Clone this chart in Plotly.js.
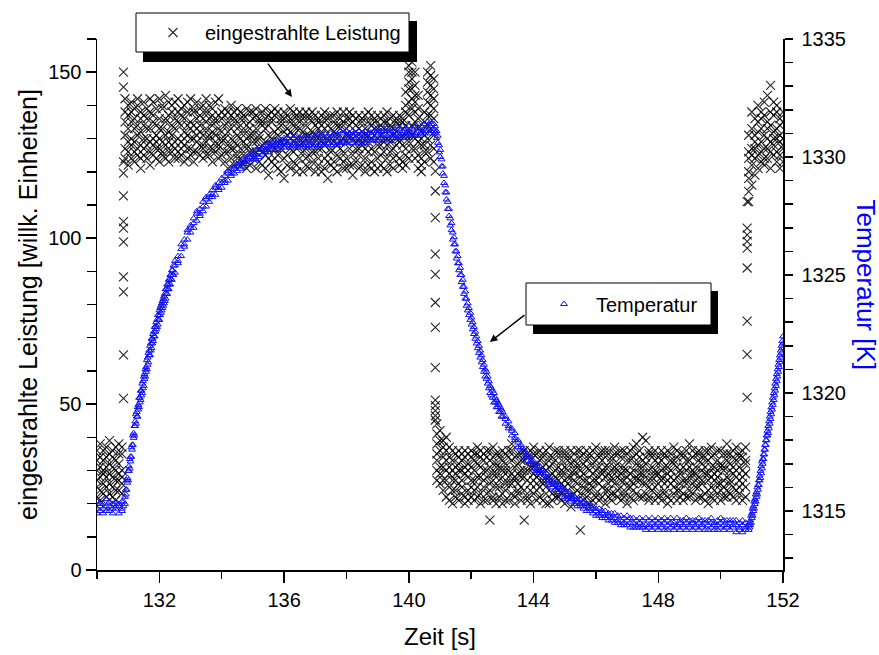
<!DOCTYPE html>
<html>
<head>
<meta charset="utf-8">
<script src="https://cdn.plot.ly/plotly-3.0.1.min.js"></script>
<style>html,body{margin:0;padding:0;background:#fff;}#chart{width:879px;height:655px;}</style>
</head>
<body>
<div id="chart"></div>
<script>
// ---- tick labels ----
const xTicks = [132, 136, 140, 144, 148, 152];
const xMinorTicks = [130, 134, 138, 142, 146, 150];
const yTicks = [0, 50, 100, 150];
const yMinorTicks = [10, 20, 30, 40, 60, 70, 80, 90, 110, 120, 130, 140, 160];
const y2Ticks = [1315, 1320, 1325, 1330, 1335];
const y2MinorTicks = [1313, 1314, 1316, 1317, 1318, 1319, 1321, 1322, 1323, 1324, 1326, 1327, 1328, 1329, 1331, 1332, 1333, 1334];

// ---- eingestrahlte Leistung: rows [Zeit, readings...] ----
const powerBefore = [
[130.0,27,33,22,36,30,25],[130.1,34,24,31,28,38,21],[130.2,23,30,36,26,33,29],[130.3,31,37,25,34,22,28],
[130.4,26,29,35,23,32,39],[130.5,36,22,28,31,25,34],[130.6,24,33,30,37,27,21],[130.7,32,27,38,24,35,29],
[130.8,28,35,23,30,26,37]
];
const powerJumpUp = [[130.85,150,145.5,123,119.6,112.7,105,103,98.9,88.3,83.8,64.8,51.7]];
const powerHigh = [
[130.9,131,138,124,142,127,135],[131.0,126,140,133,122,137,129],[131.1,135,124,141,130,128,138],[131.2,129,136,123,139,133,126],
[131.3,140,127,134,125,131,142],[131.4,124,132,138,128,136,121],[131.5,137,130,125,141,127,134],[131.6,128,139,133,124,136,130],
[131.7,133,126,142,129,122,138],[131.8,125,135,130,137,128,141],[131.9,139,129,124,134,131,127],[132.0,130,142,127,136,123,133],
[132.1,126,133,139,125,140,129],[132.2,136,124,131,128,135,143],[132.3,123,137,129,141,132,126],[132.4,134,128,140,126,138,131],
[132.5,129,141,124,133,127,136],[132.6,138,126,135,130,142,124],[132.7,127,134,129,139,125,137],[132.8,132,140,123,136,130,128],
[132.9,124,131,138,127,134,141],[133.0,135,127,130,142,125,133],[133.1,130,138,126,134,139,123],[133.2,126,133,141,129,136,131],
[133.3,139,125,132,137,128,134],[133.4,128,136,124,131,140,127],[133.5,133,129,138,125,135,142],[133.6,125,140,131,136,127,130],
[133.7,137,127,134,123,139,132],[133.8,131,135,126,141,129,136],[133.9,127,142,133,128,137,124],[134.0,136,130,125,138,132,129],
[134.1,123,134,130,137,126,139],[134.2,132,126,138,128,135,121],[134.3,127,137,124,133,130,140],[134.4,135,129,136,122,138,127],
[134.5,125,133,128,139,131,124],[134.6,138,122,134,127,136,130],[134.7,129,136,125,132,123,137],[134.8,134,127,139,130,128,121],
[134.9,122,131,135,126,138,133],[135.0,131,138,124,136,129,126],[135.1,126,129,137,121,133,139],[135.2,136,123,130,135,127,131],
[135.3,128,135,126,138,122,134],[135.4,133,121,139,129,136,125],[135.5,124,137,131,127,134,119],[135.6,135,128,123,136,130,138],
[135.7,127,132,137,124,139,122],[135.8,138,125,129,133,121,131],[135.9,129,136,120,135,127,134],[136.0,132,124,138,128,136,118],
[136.1,122,133,129,137,125,131],[136.2,136,127,135,121,132,139],[136.3,126,138,123,131,129,134],[136.4,133,122,136,127,137,120],
[136.5,128,135,130,124,133,138],[136.6,137,126,132,136,120,129],[136.7,124,131,127,138,134,122],[136.8,131,136,121,129,125,137],
[136.9,135,123,138,132,128,126],[137.0,120,130,134,126,137,131],[137.1,133,127,124,136,122,135],[137.2,127,137,131,120,134,129],
[137.3,136,121,128,133,138,124],[137.4,123,134,136,125,130,118],[137.5,130,126,122,137,127,133],[137.6,137,132,129,123,135,121],
[137.7,125,128,138,131,120,134],[137.8,134,136,124,127,133,129],[137.9,121,130,135,138,126,123],[138.0,129,124,133,121,136,131],
[138.1,136,131,127,134,122,138],[138.2,122,135,130,125,137,119],[138.3,132,127,136,129,123,134],[138.4,127,133,121,137,130,125],
[138.5,135,122,129,132,136,128],[138.6,124,137,133,120,127,131],[138.7,131,126,138,135,122,129],[138.8,137,130,123,127,134,121],
[138.9,126,135,131,136,120,133],[139.0,133,121,128,124,137,130],[139.1,128,136,134,131,125,122],[139.2,121,129,137,126,133,135],
[139.3,135,124,130,138,128,120],[139.4,129,133,122,134,136,126],[139.5,124,137,131,127,121,133],[139.6,136,128,125,132,135,130],
[139.7,130,122,137,129,124,134],[139.8,123,135,128,136,131,121]
];
const powerSpikes = [
[139.9,127,134,140,122,131,138,144,125],[140.0,129,137,145,150,132,141,124,147,152],[140.1,134,142,148,153,127,139,145,131,150],
[140.2,130,138,146,124,141,150,135,127,143],[140.3,125,133,139,121,129,136,143],[140.4,122,128,132,124,130,120],
[140.5,126,131,135,123,128,138],[140.6,130,137,144,150,126,141,134,147],[140.7,133,140,146,152,128,143,137,149,124],
[140.8,127,136,142,148,131,139,145,123]
];
const powerJumpDown = [[140.85,120.2,114.2,106.2,95.2,89.1,80.6,73.1,61.0,51.2,49.5,48,46.5,45.2]];
const powerLow = [
[140.9,44,38,41,30,35,27,33],[141.0,42,31,36,26,39,29],[141.1,39,27,34,24,31,37],[141.2,36,30,22,33,27,40],
[141.3,29,34,21,37,25,31],[141.4,33,24,30,36,20,27],[141.5,22,31,27,35,29,24],[141.6,30,26,34,21,32,36],
[141.7,27,35,23,30,25,33],[141.8,34,22,29,36,31,20],[141.9,24,32,28,21,35,30],[142.0,31,27,36,25,22,34],
[142.1,21,33,30,27,35,24],[142.2,35,25,22,32,28,37],[142.3,28,36,31,23,34,20],[142.4,33,21,27,35,30,25],
[142.5,23,30,34,28,21,36],[142.6,36,26,15,31,24,33],[142.7,27,34,22,37,29,21],[142.8,32,20,29,25,35,31],
[142.9,25,35,31,22,27,34],[143.0,30,23,36,28,33,20],[143.1,21,32,26,35,24,30],[143.2,34,28,21,30,36,26],
[143.3,26,36,33,23,29,38],[143.4,31,22,28,34,20,27],[143.5,23,29,35,26,32,24],[143.6,35,25,30,21,28,33],
[143.7,28,33,24,36,15,30],[143.8,22,30,34,27,35,21],[143.9,33,26,20,31,24,36],[144.0,29,35,27,23,37,31],
[144.1,24,21,32,35,28,26],[144.2,36,30,25,29,22,33],[144.3,27,34,21,26,31,35],[144.4,32,23,36,30,25,20],
[144.5,20,31,28,34,37,27],[144.6,34,26,23,29,21,32],[144.7,25,36,30,22,33,28],[144.8,31,22,35,27,24,36],
[144.9,23,29,26,33,30,21],[145.0,35,27,31,20,36,25],[145.1,28,33,22,30,26,34],[145.2,22,25,36,28,32,19],
[145.3,33,30,27,23,35,29],[145.4,26,36,21,32,24,31],[145.5,30,23,34,12,28,36],[145.6,21,32,29,35,25,27],
[145.7,36,27,24,31,22,33],[145.8,24,35,30,26,34,20],[145.9,32,21,27,36,29,25],[146.0,27,33,23,30,37,22],
[146.1,35,26,31,21,28,34],[146.2,22,30,36,25,33,29],[146.3,31,24,28,34,20,36],[146.4,26,36,22,29,31,24],
[146.5,34,28,33,23,27,21],[146.6,23,31,26,37,30,35],[146.7,30,22,35,28,24,32],[146.8,21,34,29,25,36,27],
[146.9,36,27,23,31,22,30],[147.0,28,33,30,20,35,25],[147.1,33,25,36,27,29,22],[147.2,24,30,21,34,26,37],
[147.3,35,23,28,32,38,27],[147.4,27,36,31,22,29,34],[147.5,22,29,40,26,33,31],[147.6,32,26,34,39,23,28],
[147.7,25,35,22,30,36,21],[147.8,34,28,27,24,31,35],[147.9,29,21,33,36,25,30],[148.0,23,32,26,29,34,22],
[148.1,36,27,30,21,28,33],[148.2,26,34,23,35,31,24],[148.3,31,22,36,27,20,29],[148.4,21,30,28,33,26,35],
[148.5,33,25,32,23,37,27],[148.6,28,36,21,31,24,34],[148.7,24,29,35,26,30,22],[148.8,35,23,27,34,21,31],
[148.9,27,33,30,22,36,26],[149.0,22,31,24,38,28,33],[149.1,34,26,36,29,23,30],[149.2,29,21,31,25,35,27],
[149.3,25,35,28,33,22,36],[149.4,32,27,22,30,26,34],[149.5,23,34,29,36,31,21],[149.6,36,24,33,27,20,29],
[149.7,28,31,25,22,34,37],[149.8,21,27,35,31,29,24],[149.9,33,30,23,26,36,28],[150.0,26,36,32,21,24,31],
[150.1,31,22,27,35,30,25],[150.2,24,33,38,28,22,35],[150.3,35,26,30,23,32,27],[150.4,22,29,34,36,25,31],
[150.5,30,24,21,33,28,37],[150.6,27,35,31,25,23,34],[150.7,34,21,28,30,36,26],[150.8,25,32,37,22,29,33]
];
const powerJumpUp2 = [[150.85,111,103,101,99,97,91,75,65,52]];
const powerHigh2 = [
[150.9,114,120,126,131,124,111,118],[151.0,122,133,127,116,138,125],[151.1,129,124,136,119,131,127],
[151.2,135,121,128,140,125,132],[151.3,126,138,123,133,129,136],[151.4,131,127,141,124,137,122],
[151.5,124,135,130,143,127,133],[151.6,138,126,146,129,134,121],[151.7,128,141,132,125,137,130],
[151.8,133,123,138,130,126,140],[151.9,125,136,129,134,121,131],[152.0,130,127,135,123,138,128]
];

// ---- Temperatur [K]: rows [Zeit, readings...] ----
const tempBefore = [
[130.0,1315.1,1315.4,1314.9],[130.1,1315.3,1315.0,1315.2],[130.2,1314.9,1315.3,1315.1],[130.3,1315.2,1315.5,1315.0],
[130.4,1315.0,1315.2,1315.4],[130.5,1315.3,1314.9,1315.1],[130.6,1315.1,1315.4,1315.2],[130.7,1315.2,1314.9,1315.3],
[130.8,1315.4,1315.1,1315.0],[130.85,1315.2,1315.4]
];
const tempRise = [
[130.9,1315.3,1315.6],[130.925,1315.7,1315.9],[130.95,1315.9,1316.3],[130.975,1316.2,1316.4],[131.0,1316.3,1316.7],
[131.025,1316.7,1316.9],[131.05,1316.8,1317.2],[131.075,1317.1,1317.3],[131.1,1317.3,1317.7],[131.125,1317.6,1317.8],
[131.15,1317.8,1318.2],[131.175,1318.1,1318.3],[131.2,1318.2,1318.6],[131.225,1318.6,1318.8],[131.25,1318.7,1319.1],
[131.275,1319.0,1319.2],[131.3,1319.0,1319.4],[131.325,1319.3,1319.5],[131.35,1319.4,1319.8],[131.375,1319.6,1319.8],
[131.4,1319.7,1320.1],[131.425,1319.9,1320.1],[131.45,1320.0,1320.4],[131.475,1320.2,1320.5],[131.5,1320.3,1320.7],
[131.525,1320.6,1320.8],[131.55,1320.7,1321.0],[131.575,1320.9,1321.1],[131.6,1321.0,1321.4],[131.625,1321.2,1321.5],
[131.65,1321.3,1321.7],[131.675,1321.6,1321.8],[131.7,1321.6,1322.0],[131.725,1321.8,1322.1],[131.75,1321.9,1322.3],
[131.775,1322.1,1322.3],[131.8,1322.2,1322.5],[131.825,1322.4,1322.6],[131.85,1322.4,1322.8],[131.875,1322.6,1322.8],
[131.9,1322.7,1323.0],[131.925,1322.8,1323.1],[131.95,1322.9,1323.3],[131.975,1323.1,1323.3],[132.0,1323.1,1323.5],
[132.025,1323.3,1323.6],[132.05,1323.4,1323.7],[132.075,1323.5,1323.8],[132.1,1323.6,1323.9],[132.125,1323.7,1324.0],
[132.15,1323.8,1324.1],[132.175,1323.9,1324.2],[132.2,1324.0,1324.4],[132.225,1324.2,1324.4],[132.25,1324.2,1324.6],
[132.275,1324.4,1324.6],[132.3,1324.4,1324.8],[132.325,1324.6,1324.8],[132.35,1324.6,1325.0],[132.375,1324.8,1325.0],
[132.4,1324.8,1325.2],[132.425,1325.0,1325.2],[132.45,1325.0,1325.4]
];
const tempPlateau = [
[132.5,1325.1,1325.4,1325.6],[132.6,1325.5,1325.8,1325.6],[132.7,1325.8,1326.1,1326.3],[132.8,1326.2,1326.5,1326.3],
[132.9,1326.5,1326.8,1326.9],[133.0,1326.8,1327.1,1327.0],[133.1,1327.0,1327.4,1327.2],[133.2,1327.3,1327.6,1327.7],
[133.3,1327.5,1327.8,1327.6],[133.4,1327.7,1328.1,1327.9],[133.5,1327.9,1328.2,1328.3],[133.6,1328.1,1328.4,1328.3],
[133.7,1328.3,1328.6,1328.4],[133.8,1328.4,1328.7,1328.8],[133.9,1328.6,1328.9,1328.7],[134.0,1328.7,1329.1,1328.9],
[134.1,1328.9,1329.2,1329.0],[134.2,1329.0,1329.3,1329.4],[134.3,1329.2,1329.5,1329.3],[134.4,1329.3,1329.6,1329.5],
[134.5,1329.4,1329.7,1329.6],[134.6,1329.5,1329.8,1329.7],[134.7,1329.6,1329.9,1329.8],[134.8,1329.7,1330.0,1329.9],
[134.9,1329.8,1330.1,1330.0],[135.0,1329.9,1330.2,1330.1],[135.1,1329.9,1330.3,1330.1],[135.2,1330.0,1330.4,1330.2],
[135.3,1330.1,1330.4,1330.3],[135.4,1330.2,1330.5,1330.3],[135.5,1330.2,1330.6,1330.4],[135.6,1330.3,1330.6,1330.5],
[135.7,1330.3,1330.7,1330.5],[135.8,1330.3,1330.7,1330.5],[135.9,1330.4,1330.7,1330.6],[136.0,1330.4,1330.8,1330.6],
[136.1,1330.5,1330.8,1330.6],[136.2,1330.4,1330.7,1330.9],[136.3,1330.5,1330.8,1330.6],[136.4,1330.4,1330.9,1330.7],
[136.5,1330.5,1330.8,1330.6],[136.6,1330.4,1330.7,1330.9],[136.7,1330.6,1330.9,1330.5],[136.8,1330.5,1330.8,1330.7],
[136.9,1330.4,1330.7,1330.9],[137.0,1330.6,1330.9,1330.5],[137.1,1330.5,1330.8,1331.0],[137.2,1330.6,1330.9,1330.7],
[137.3,1330.5,1330.8,1331.0],[137.4,1330.7,1330.9,1330.6],[137.5,1330.5,1330.8,1331.0],[137.6,1330.6,1331.0,1330.8],
[137.7,1330.7,1330.9,1330.5],[137.8,1330.6,1330.8,1331.1],[137.9,1330.7,1331.0,1330.6],[138.0,1330.6,1330.9,1331.1],
[138.1,1330.7,1331.0,1330.8],[138.2,1330.6,1330.9,1331.1],[138.3,1330.8,1331.0,1330.7],[138.4,1330.6,1330.9,1331.1],
[138.5,1330.7,1331.0,1330.8],[138.6,1330.6,1331.1,1330.9],[138.7,1330.8,1331.0,1330.7],[138.8,1330.7,1330.9,1331.2],
[138.9,1330.8,1331.1,1330.7],[139.0,1330.7,1331.0,1331.2],[139.1,1330.8,1331.1,1330.9],[139.2,1330.7,1330.9,1331.2],
[139.3,1330.8,1331.1,1330.9],[139.4,1330.7,1331.0,1331.2],[139.5,1330.9,1331.1,1330.8],[139.6,1330.8,1331.0,1331.3],
[139.7,1330.9,1331.2,1330.8],[139.8,1330.8,1331.1,1331.3],[139.9,1330.9,1331.2,1331.0],[140.0,1330.8,1331.1,1331.3],
[140.1,1330.9,1331.2,1331.0],[140.2,1331.0,1331.3,1330.9],[140.3,1330.9,1331.2,1331.4],[140.4,1331.0,1331.3,1331.1],
[140.5,1331.0,1331.4,1331.2],[140.6,1331.1,1331.3,1331.5],[140.7,1331.0,1331.3,1331.5],[140.8,1331.1,1331.4,1331.2]
];
const tempFall = [
[140.85,1331.0,1331.3],[140.89,1330.8,1331.1],[140.93,1330.6,1330.9],[140.97,1330.2,1330.5],[141.01,1330.0,1330.3],
[141.05,1329.6,1329.9],[141.09,1329.3,1329.6],[141.13,1328.9,1329.2],[141.17,1328.5,1328.8],[141.21,1328.2,1328.5],
[141.25,1327.8,1328.1],[141.29,1327.5,1327.8],[141.33,1327.1,1327.4],[141.37,1326.9,1327.2],[141.41,1326.5,1326.8],
[141.45,1326.3,1326.6],[141.49,1326.0,1326.3],[141.53,1325.7,1326.0],[141.57,1325.5,1325.8],[141.61,1325.2,1325.5],
[141.65,1325.0,1325.3],[141.69,1324.7,1325.0],[141.73,1324.5,1324.8],[141.77,1324.2,1324.5],[141.81,1324.0,1324.3],
[141.85,1323.7,1324.0],[141.89,1323.5,1323.8],[141.93,1323.3,1323.6],[141.97,1323.1,1323.4],[142.01,1322.9,1323.2],
[142.05,1322.7,1323.0],[142.09,1322.5,1322.8],[142.13,1322.3,1322.6],[142.17,1322.1,1322.4],[142.21,1321.9,1322.2],
[142.25,1321.7,1322.0],[142.29,1321.5,1321.8],[142.33,1321.3,1321.6],[142.37,1321.1,1321.4],[142.41,1320.9,1321.2],
[142.45,1320.7,1321.0],[142.49,1320.6,1320.9],[142.53,1320.4,1320.7],[142.57,1320.2,1320.5],[142.61,1320.0,1320.3],
[142.65,1319.9,1320.2],[142.69,1319.8,1320.1],[142.73,1319.6,1320.0],[142.77,1319.6,1319.8],[142.81,1319.4,1319.7],
[142.85,1319.4,1319.6],[142.89,1319.2,1319.5],[142.93,1319.2,1319.4],[142.97,1319.0,1319.3],[143.01,1319.0,1319.2]
];
const tempLow = [
[143.1,1318.7,1319.0,1318.9],[143.2,1318.5,1318.8,1318.6],[143.3,1318.2,1318.5,1318.4],[143.4,1318.0,1318.3,1318.1],
[143.5,1317.7,1318.0,1317.9],[143.6,1317.5,1317.8,1317.7],[143.7,1317.3,1317.6,1317.5],[143.8,1317.1,1317.4,1317.3],
[143.9,1317.0,1317.3,1317.1],[144.0,1316.8,1317.1,1317.0],[144.1,1316.7,1317.0,1316.8],[144.2,1316.6,1316.9,1316.7],
[144.3,1316.4,1316.7,1316.6],[144.4,1316.3,1316.6,1316.4],[144.5,1316.1,1316.4,1316.3],[144.6,1316.0,1316.3,1316.2],
[144.7,1315.9,1316.2,1316.1],[144.8,1315.8,1316.1,1316.0],[144.9,1315.7,1316.0,1315.9],[145.0,1315.6,1315.9,1315.8],
[145.1,1315.5,1315.8,1315.7],[145.2,1315.4,1315.7,1315.6],[145.3,1315.3,1315.6,1315.5],[145.4,1315.2,1315.5,1315.4],
[145.5,1315.2,1315.5,1315.3],[145.6,1315.1,1315.4,1315.2],[145.7,1315.0,1315.3,1315.2],[145.8,1315.0,1315.3,1315.1],
[145.9,1314.9,1315.2,1315.1],[146.0,1314.8,1315.1,1315.0],[146.1,1314.8,1315.1,1314.9],[146.2,1314.7,1315.0,1314.9],
[146.3,1314.7,1315.0,1314.8],[146.4,1314.6,1314.9,1314.8],[146.5,1314.6,1314.9,1314.7],[146.6,1314.5,1314.9,1314.7],
[146.7,1314.6,1314.8,1314.5],[146.8,1314.4,1314.8,1314.6],[146.9,1314.5,1314.7,1314.4],[147.0,1314.4,1314.8,1314.6],
[147.1,1314.5,1314.7,1314.3],[147.2,1314.3,1314.7,1314.5],[147.3,1314.4,1314.6,1314.3],[147.4,1314.5,1314.7,1314.3],
[147.5,1314.3,1314.6,1314.4],[147.6,1314.4,1314.7,1314.2],[147.7,1314.3,1314.6,1314.4],[147.8,1314.5,1314.7,1314.2],
[147.9,1314.3,1314.6,1314.4],[148.0,1314.2,1314.5,1314.7],[148.1,1314.4,1314.6,1314.3],[148.2,1314.2,1314.5,1314.7],
[148.3,1314.4,1314.6,1314.2],[148.4,1314.3,1314.7,1314.5],[148.5,1314.2,1314.5,1314.4],[148.6,1314.4,1314.7,1314.3],
[148.7,1314.2,1314.5,1314.6],[148.8,1314.4,1314.6,1314.3],[148.9,1314.2,1314.5,1314.7],[149.0,1314.3,1314.6,1314.4],
[149.1,1314.2,1314.5,1314.6],[149.2,1314.4,1314.6,1314.3],[149.3,1314.2,1314.5,1314.7],[149.4,1314.3,1314.6,1314.4],
[149.5,1314.2,1314.5,1314.6],[149.6,1314.4,1314.6,1314.2],[149.7,1314.3,1314.5,1314.7],[149.8,1314.2,1314.5,1314.4],
[149.9,1314.4,1314.6,1314.2],[150.0,1314.3,1314.5,1314.7],[150.1,1314.2,1314.4,1314.6],[150.2,1314.4,1314.6,1314.3],
[150.3,1314.2,1314.5,1314.6],[150.4,1314.3,1314.6,1314.4],[150.5,1314.1,1314.4,1314.6],[150.6,1314.3,1314.5,1314.2],
[150.7,1314.1,1314.4,1314.6],[150.8,1314.2,1314.5,1314.3],[150.9,1314.2,1314.4]
];
const tempRise2 = [
[150.925,1314.3,1314.5],[150.95,1314.4,1314.6],[150.975,1314.5,1314.8],[151.0,1314.7,1314.9],[151.025,1314.8,1315.1],
[151.05,1315.0,1315.2],[151.075,1315.1,1315.4],[151.1,1315.3,1315.5],[151.125,1315.4,1315.7],[151.15,1315.6,1315.8],
[151.175,1315.7,1316.0],[151.2,1315.9,1316.1],[151.225,1316.1,1316.3],[151.25,1316.3,1316.5],[151.275,1316.4,1316.7],
[151.3,1316.6,1316.9],[151.325,1316.8,1317.1],[151.35,1317.0,1317.2],[151.375,1317.2,1317.4],[151.4,1317.4,1317.6],
[151.425,1317.6,1317.8],[151.45,1317.8,1318.0],[151.475,1318.0,1318.2],[151.5,1318.2,1318.4],[151.525,1318.3,1318.6],
[151.55,1318.5,1318.8],[151.575,1318.7,1319.0],[151.6,1318.9,1319.2],[151.625,1319.1,1319.4],[151.65,1319.3,1319.6],
[151.675,1319.5,1319.8],[151.7,1319.7,1320.0],[151.725,1319.9,1320.2],[151.75,1320.1,1320.4],[151.775,1320.3,1320.6],
[151.8,1320.5,1320.8],[151.825,1320.7,1321.0],[151.85,1320.9,1321.2],[151.875,1321.1,1321.4],[151.9,1321.3,1321.6],
[151.925,1321.5,1321.8],[151.95,1321.7,1322.0],[151.975,1321.9,1322.2],[152.0,1322.1,1322.4]
];

function flatten(segments) {
  const x = [], y = [];
  segments.forEach(seg => seg.forEach(row => {
    for (let i = 1; i < row.length; i++) { x.push(row[0]); y.push(row[i]); }
  }));
  return {x, y};
}

const power = flatten([powerBefore, powerJumpUp, powerHigh, powerSpikes, powerJumpDown, powerLow, powerJumpUp2, powerHigh2]);
const temp = flatten([tempBefore, tempRise, tempPlateau, tempFall, tempLow, tempRise2]);

const FONT = 'Liberation Sans, Arial, sans-serif';
const L = 97, T = 39, W = 686, H = 531;
const px = v => (v - L) / W;
const py = v => (T + H - v) / H;

const traces = [
  {
    type: 'scatter', mode: 'markers', name: 'eingestrahlte Leistung',
    x: power.x, y: power.y, xaxis: 'x', yaxis: 'y', legend: 'legend',
    marker: {symbol: 'x-thin-open', size: 9, color: 'rgba(0,0,0,0.85)', line: {width: 1.1, color: 'rgba(0,0,0,0.85)'}},
    hoverinfo: 'x+y'
  },
  {
    type: 'scatter', mode: 'markers', name: 'Temperatur',
    x: temp.x, y: temp.y, xaxis: 'x', yaxis: 'y2', legend: 'legend2',
    marker: {symbol: 'triangle-up-open', size: 6, color: '#1010ff', line: {width: 1, color: '#1010ff'}},
    hoverinfo: 'x+y'
  }
];

const axisCommon = {
  showgrid: false, zeroline: false, showline: true, linecolor: '#000', linewidth: 1.5,
  ticks: 'outside', tickcolor: '#000', tickwidth: 1.5, tickfont: {family: FONT, size: 20, color: '#000'},
  automargin: false
};

const layout = {
  width: 879, height: 655,
  margin: {l: L, r: 879 - L - W, t: T, b: 655 - T - H, pad: 0},
  paper_bgcolor: '#fff', plot_bgcolor: '#fff',
  font: {family: FONT, size: 20, color: '#000'},
  xaxis: Object.assign({}, axisCommon, {
    range: [130, 152], tickmode: 'array', tickvals: xTicks, ticktext: xTicks.map(String), ticklen: 11,
    minor: {tickmode: 'array', tickvals: xMinorTicks, ticks: 'outside', ticklen: 7, tickwidth: 1.5, tickcolor: '#000'},
    title: {text: 'Zeit [s]', font: {family: FONT, size: 24, color: '#000'}, standoff: 18}
  }),
  yaxis: Object.assign({}, axisCommon, {
    range: [0, 160], tickmode: 'array', tickvals: yTicks, ticktext: yTicks.map(String), ticklen: 10,
    minor: {tickmode: 'array', tickvals: yMinorTicks, ticks: 'outside', ticklen: 9, tickwidth: 1.5, tickcolor: '#000'},
    title: {text: 'eingestrahlte Leistung [willk. Einheiten]', font: {family: FONT, size: 25, color: '#000'}, standoff: 3}
  }),
  yaxis2: Object.assign({}, axisCommon, {
    overlaying: 'y', side: 'right', anchor: 'x',
    range: [1312.5, 1335], tickmode: 'array', tickvals: y2Ticks, ticktext: y2Ticks.map(String), ticklen: 8,
    ticklabelstandoff: 5,
    minor: {tickmode: 'array', tickvals: y2MinorTicks, ticks: 'outside', ticklen: 8, tickwidth: 1.5, tickcolor: '#000'}
  }),
  showlegend: true,
  legend: {
    x: px(141), y: py(32.5), xanchor: 'left', yanchor: 'middle',
    bgcolor: 'rgba(0,0,0,0)', borderwidth: 0, itemwidth: 54,
    font: {family: FONT, size: 20, color: '#000'}
  },
  legend2: {
    x: px(532), y: py(304), xanchor: 'left', yanchor: 'middle',
    bgcolor: 'rgba(0,0,0,0)', borderwidth: 0, itemwidth: 54,
    font: {family: FONT, size: 20, color: '#000'}
  },
  shapes: [
    {type: 'rect', xref: 'paper', yref: 'paper', x0: px(143), x1: px(417), y0: py(62), y1: py(21),
     fillcolor: '#000', line: {width: 0}, layer: 'above'},
    {type: 'rect', xref: 'paper', yref: 'paper', x0: px(136), x1: px(409), y0: py(52), y1: py(13),
     fillcolor: '#fff', line: {width: 1, color: '#000'}, layer: 'above'},
    {type: 'rect', xref: 'paper', yref: 'paper', x0: px(533), x1: px(718), y0: py(334), y1: py(291),
     fillcolor: '#000', line: {width: 0}, layer: 'above'},
    {type: 'rect', xref: 'paper', yref: 'paper', x0: px(526), x1: px(711), y0: py(325), y1: py(283),
     fillcolor: '#fff', line: {width: 1, color: '#000'}, layer: 'above'}
  ],
  annotations: [
    {xref: 'paper', yref: 'paper', x: px(866), y: py(284.5), xanchor: 'center', yanchor: 'middle',
     text: 'Temperatur [K]', textangle: 90, showarrow: false,
     font: {family: FONT, size: 26, color: '#0000ff'}},
    {xref: 'x', yref: 'y', x: 136.25, y: 142.5, ax: -25, ay: -35, text: '', showarrow: true,
     arrowhead: 2, arrowsize: 1, arrowwidth: 1.5, arrowcolor: '#000'},
    {xref: 'x', yref: 'y', x: 142.6, y: 68.7, ax: 36, ay: -28, text: '', showarrow: true,
     arrowhead: 2, arrowsize: 1, arrowwidth: 1.5, arrowcolor: '#000'}
  ]
};

Plotly.newPlot('chart', traces, layout, {displayModeBar: false, staticPlot: true});
</script>
</body>
</html>
